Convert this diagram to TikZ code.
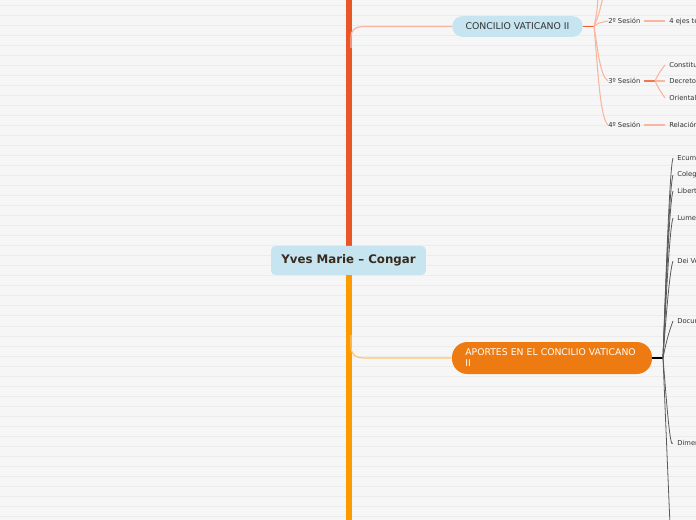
\documentclass[tikz,border=0pt]{standalone}
\usepackage{fontspec}
\setmainfont{DejaVu Sans}
\usetikzlibrary{calc}
\definecolor{bg}{HTML}{F6F6F6}
\definecolor{rule}{HTML}{ECECEC}
\definecolor{trunkA}{HTML}{EA5529}
\definecolor{trunkB}{HTML}{FD9A00}
\definecolor{salmon}{HTML}{F6B6A0}
\definecolor{redor}{HTML}{EE5C30}
\definecolor{bluef}{HTML}{C6E5F0}
\definecolor{orangef}{HTML}{EE7B12}
\definecolor{lightor}{HTML}{FFC46A}
\definecolor{txt}{HTML}{333333}
\definecolor{ctxt}{HTML}{3A2A1C}
\definecolor{fan}{HTML}{5A5A5A}
\tikzset{
  lbl/.style={anchor=west,inner sep=0pt,text=txt,font=\fontsize{5.1}{6}\selectfont},
  sal/.style={draw=salmon,line width=0.9pt},
  fanl/.style={draw=fan,line width=0.6pt},
}
\begin{document}
\begin{tikzpicture}[x=0.75pt,y=-0.75pt]
\useasboundingbox (0,0) rectangle (696,520);
\clip (0,0) rectangle (696,520);
\fill[bg] (0,0) rectangle (696,520);
\foreach \yy in {6,16,...,516} \draw[rule,line width=0.75pt] (0,\yy) -- (696,\yy);

% trunk
\draw[trunkA,line width=3.8pt] (349,-5) -- (349,250);
\draw[trunkB,line width=3.8pt] (349,270) -- (349,525);

% central node
\node[fill=bluef,rounded corners=3pt,minimum width=116pt,minimum height=21.75pt,inner sep=0pt,text=ctxt,font=\fontsize{8.85}{11}\selectfont\bfseries] (root) at (348.5,260.5) {Yves Marie – Congar};

% branch 1
\node[fill=bluef,rounded corners=7.8pt,minimum width=98pt,minimum height=15.6pt,inner sep=0pt,text=txt,font=\fontsize{7}{8}\selectfont] (conc) at (517.5,26.5) {CONCILIO VATICANO II};
\coordinate (b1) at (351,48);
\draw[sal] (b1) -- (351,38) .. controls (351,29) and (355,26.5) .. (366,26.5) -- (conc.west);

% branch 2
\node[fill=orangef,rounded corners=11.5pt,minimum width=150pt,minimum height=24pt,inner sep=0pt,text width=130pt,align=left,text=white,font=\fontsize{6.95}{8.25}\selectfont] (apor) at (552,358) {APORTES EN EL CONCILIO VATICANO\\II};
\coordinate (b2) at (351,335);
\draw[draw=lightor,line width=0.9pt] (b2) -- (351,346) .. controls (351,355) and (355,358) .. (366,358) -- (apor.west);

% concilio sub-branches
\coordinate (cf) at (594,26.5);
\draw[redor,line width=1.4pt] (conc.east) -- (cf);
\node[lbl] (s2) at (608,21) {2º Sesión};
\node[lbl] (s3) at (608,81) {3º Sesión};
\node[lbl] (s4) at (608,125) {4º Sesión};
\draw[sal,line width=0.8pt] (cf) .. controls (597,12) .. (598,-3);
\draw[sal,line width=0.8pt] (cf) .. controls (599,14) .. (603,-3);
\draw[sal,line width=0.8pt] (cf) .. controls (598,23) .. (s2.west);
\draw[sal,line width=0.8pt] (cf) .. controls (598,50) and (600,76) .. (s3.west);
\draw[sal,line width=0.8pt] (cf) .. controls (598,70) and (600,118) .. (s4.west);

\node[lbl] (e1) at (669,21) {4 ejes temáticos};
\coordinate (s2e) at (644,21);
\draw[sal] (s2e) -- (665,21);
\node[lbl] (c1) at (669,65) {Constitución};
\node[lbl] (c2) at (669,81) {Decreto};
\node[lbl] (c3) at (669,98) {Orientalium};
\coordinate (s3f) at (655,81);
\draw[redor!70!salmon,line width=1.3pt] (644,81) -- (s3f);
\draw[sal,line width=0.8pt] (s3f) .. controls (659,73) .. (665,65);
\draw[sal,line width=0.8pt] (s3f) -- (665,81);
\draw[sal,line width=0.8pt] (s3f) .. controls (659,89) .. (665,98);
\node[lbl] (r1) at (669,125) {Relación};
\draw[sal] (644,125) -- (665,125);

% aportes sub-branches
\coordinate (af) at (663,358);
\draw[black,line width=1pt] (apor.east) -- (af);
\foreach \nm/\yy/\tx in {a1/158/Ecumenismo,a2/175/Colegialidad,a3/191/Libertad,a4/218/Lumen Gentium,a5/261/Dei Verbum,a6/321/Documentos,a7/443/Dimensión}{
  \node[lbl] (\nm) at (677,\yy) {\tx};
}
\foreach \yy in {158,175,191,218,261,321,443}{
  \draw[fanl] (af) .. controls ($(af)!0.5!(670,\yy)$) and (670,{\yy+8}) .. (673,\yy);
}
\draw[fanl] (af) .. controls (666,430) .. (670,525);
\end{tikzpicture}
\end{document}
